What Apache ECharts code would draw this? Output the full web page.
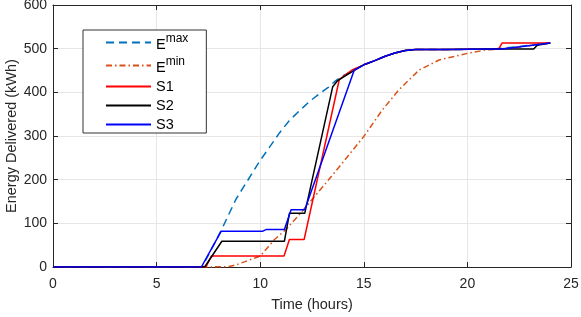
<!DOCTYPE html>
<html><head><meta charset="utf-8">
<script src="https://cdn.jsdelivr.net/npm/echarts@6/dist/echarts.min.js"></script>
<style>html,body{margin:0;padding:0;background:#fff;}#c{width:581px;height:317px;}</style>
</head><body><div id="c"></div>
<script>
// Time (hours) and energy (kWh) values
var tailT = [15.0, 15.5, 16.0, 16.5, 17.0, 17.5, 19.0, 21.2];
var tailE = [463, 472, 482, 490, 496, 498, 498, 499];

var emaxT = [0, 7.2, 8.1, 8.84, 9.97, 10.93, 11.4, 11.9, 12.4, 12.9, 13.3, 13.65, 14.0, 14.55];
var emaxE = [0, 0, 82, 156, 242, 307, 335, 358, 380, 398, 412, 427, 438, 452];
var emaxEndT = [22.5, 24];
var emaxEndE = [505, 513];

var eminT = [0, 7.4, 8.5, 8.9, 10.0, 10.69, 11.25, 11.89, 12.37, 13.5, 15.0, 15.9, 16.7, 17.67, 18.63, 20.07, 20.88, 21.5, 22.5, 24];
var eminE = [0, 0, 1, 6, 25, 63, 86, 120, 147, 211, 299, 360, 406, 451, 474, 490, 497, 499, 504, 513];

var s1T = [0, 7.38, 7.64, 11.15, 11.41, 12.12, 13.82, 14.46];
var s1E = [0, 0, 25, 25, 63, 63, 430, 452];
var s1EndT = [21.52, 21.68, 24];
var s1EndE = [500, 513, 513];

var s2T = [0, 7.32, 8.15, 11.17, 11.41, 12.15, 13.5, 13.74, 14.46];
var s2E = [0, 0, 59, 59, 123, 123, 413, 427, 448];
var s2EndT = [23.2, 23.37, 24];
var s2EndE = [499, 508, 513];

var s3T = [0, 7.16, 8.12, 10.13, 10.3, 11.17, 11.49, 12.15, 14.54];
var s3E = [0, 0, 82, 82, 86, 86, 131, 131, 451];
var s3EndT = [21.7, 24];
var s3EndE = [499, 513];

function pts(t, e) { return t.map(function (x, i) { return [x, e[i]]; }); }
function full(t, e, et, ee) { return pts(t, e).concat(pts(tailT, tailE)).concat(pts(et, ee)); }

var txt = '#262626';
var font = 'Liberation Sans';
var chart = echarts.init(document.getElementById('c'));

function series(name, data, color, type, z) {
  return { name: name, type: 'line', data: data, symbol: 'none', z: z,
    lineStyle: { color: color, width: 1.5, type: type }, itemStyle: { color: color } };
}

chart.setOption({
  animation: false,
  textStyle: { fontFamily: font },
  grid: { left: 53, right: 10, top: 5, bottom: 50, containLabel: false, outerBoundsMode: 'none' },
  legend: {
    orient: 'vertical', left: 83, top: 30,
    padding: [3, 18, 1, 22], itemGap: 4, itemWidth: 45, itemHeight: 14,
    backgroundColor: '#fff', borderColor: '#333', borderWidth: 1,
    itemStyle: { opacity: 0 },
    data: ['Emax', 'Emin', 'S1', 'S2', 'S3'],
    formatter: function (n) {
      if (n === 'Emax') return '{b|E}{s|max}';
      if (n === 'Emin') return '{b|E}{s|min}';
      return '{b|' + n + '}';
    },
    textStyle: { color: '#000', fontFamily: font, fontSize: 14.5,
      rich: { b: { fontSize: 14.5, fontFamily: font, color: '#000', verticalAlign: 'bottom', lineHeight: 15 },
              s: { fontSize: 12, fontFamily: font, color: '#000', verticalAlign: 'top', lineHeight: 19 } } }
  },
  xAxis: [{
    type: 'value', min: 0, max: 25, interval: 5,
    name: 'Time (hours)', nameLocation: 'middle', nameGap: 30,
    nameTextStyle: { fontSize: 14.5, color: txt, fontFamily: font },
    axisLine: { onZero: false, lineStyle: { color: txt, width: 1 } },
    axisTick: { inside: true, length: 5, lineStyle: { color: txt } },
    axisLabel: { fontSize: 14, color: txt, fontFamily: font, margin: 10 },
    splitLine: { show: true, lineStyle: { color: '#e6e6e6', width: 1 } }
  }, {
    type: 'value', min: 0, max: 25, interval: 5, position: 'top',
    axisLine: { onZero: false, lineStyle: { color: txt, width: 1 } },
    axisTick: { inside: true, length: 5, lineStyle: { color: txt } },
    axisLabel: { show: false }, splitLine: { show: false }
  }],
  yAxis: [{
    type: 'value', min: 0, max: 600, interval: 100,
    name: 'Energy Delivered (kWh)', nameLocation: 'middle', nameGap: 34, nameMoveOverlap: false,
    nameTextStyle: { fontSize: 14.5, color: txt, fontFamily: font },
    axisLine: { show: true, onZero: false, lineStyle: { color: txt, width: 1 } },
    axisTick: { show: true, inside: true, length: 5, lineStyle: { color: txt } },
    axisLabel: { fontSize: 14, color: txt, fontFamily: font, margin: 6 },
    splitLine: { show: true, lineStyle: { color: '#e6e6e6', width: 1 } }
  }, {
    type: 'value', min: 0, max: 600, interval: 100, position: 'right',
    axisLine: { show: true, onZero: false, lineStyle: { color: txt, width: 1 } },
    axisTick: { show: true, inside: true, length: 5, lineStyle: { color: txt } },
    axisLabel: { show: false }, splitLine: { show: false }
  }],
  series: [
    series('Emax', full(emaxT, emaxE, emaxEndT, emaxEndE), '#0072BD', [8, 5], 1),
    series('Emin', pts(eminT, eminE), '#D95319', [6, 3, 1.5, 3], 2),
    series('S1', full(s1T, s1E, s1EndT, s1EndE), '#FF0000', 'solid', 3),
    series('S2', full(s2T, s2E, s2EndT, s2EndE), '#000000', 'solid', 4),
    series('S3', full(s3T, s3E, s3EndT, s3EndE), '#0000FF', 'solid', 5)
  ]
});
</script></body></html>
